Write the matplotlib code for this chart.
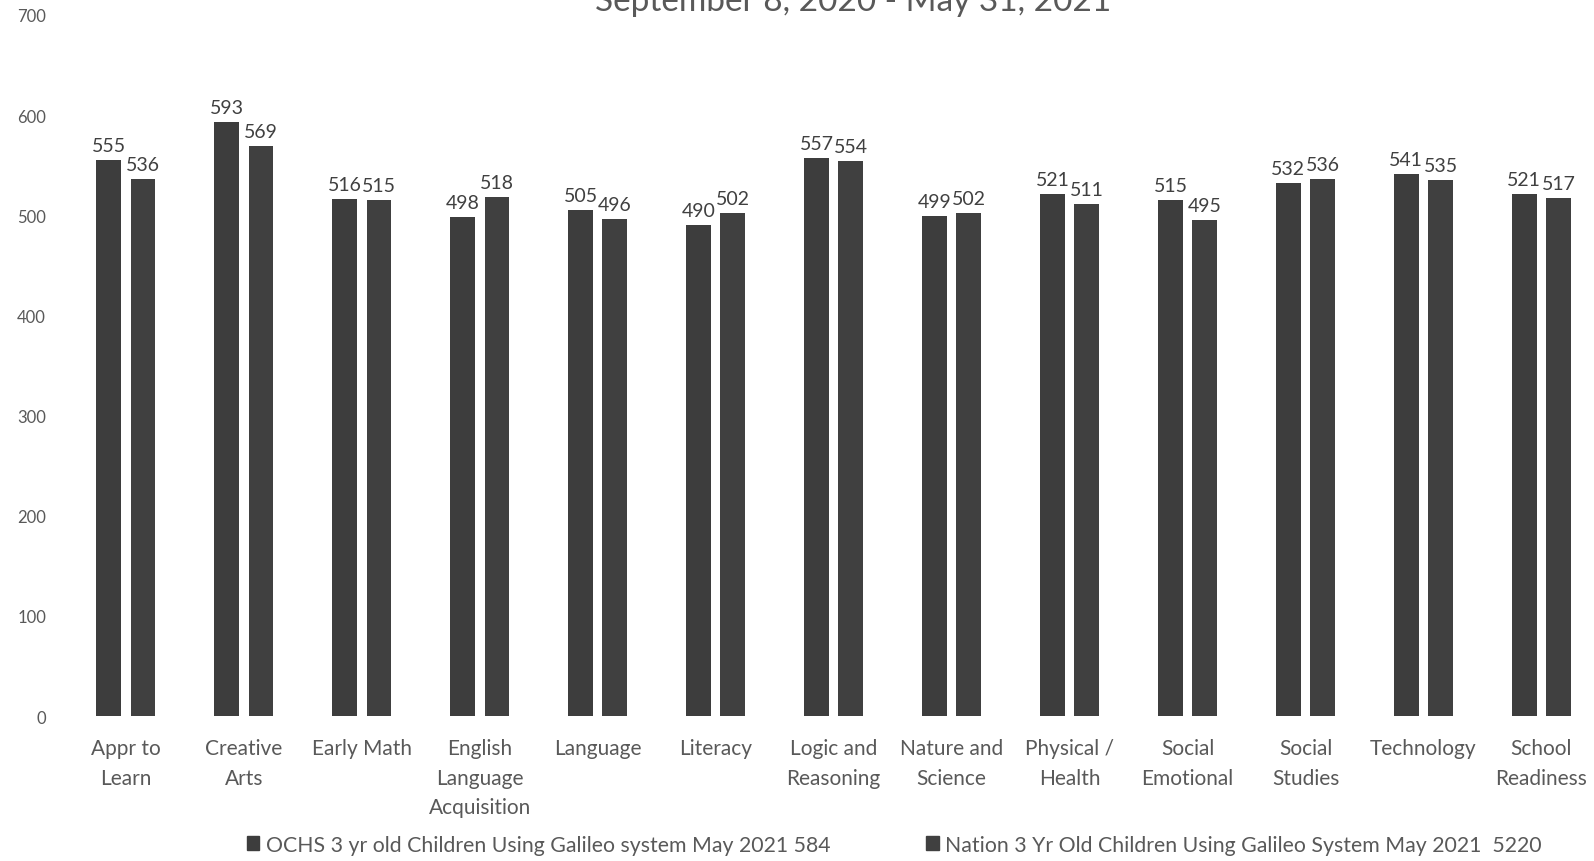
import matplotlib.pyplot as plt
import numpy as np
from matplotlib.patches import Patch

# Galileo scores by domain, 3 yr olds
categories = ["Appr to\nLearn", "Creative\nArts", "Early Math", "English\nLanguage\nAcquisition",
              "Language", "Literacy", "Logic and\nReasoning", "Nature and\nScience",
              "Physical /\nHealth", "Social\nEmotional", "Social\nStudies", "Technology",
              "School\nReadiness"]
ochs = [555, 593, 516, 498, 505, 490, 557, 499, 521, 515, 532, 541, 521]
nation = [536, 569, 515, 518, 496, 502, 554, 502, 511, 495, 536, 535, 517]
series_names = ["OCHS 3 yr old Children Using Galileo system May 2021 584",
                "Nation 3 Yr Old Children Using Galileo System May 2021  5220"]
yticks = [0, 100, 200, 300, 400, 500, 600, 700]

plt.rcParams['font.family'] = ['Lato', 'DejaVu Sans']
bar_color = "#404040"
text_color = "#595959"

fig = plt.figure(figsize=(15.94, 8.62), dpi=100)
ax = fig.add_axes([0.042, 0.168, 0.962, 0.8136])

x = np.arange(len(categories))
w = 0.21
off = 0.145
b1 = ax.bar(x - off, ochs, w, color="#3d3d3d")
b2 = ax.bar(x + off, nation, w, color=bar_color)

for bars in (b1, b2):
    for r in bars:
        ax.text(r.get_x() + r.get_width() / 2, r.get_height() + 6, str(int(r.get_height())),
                ha='center', va='bottom', fontsize=14, color="#404040")

ax.set_ylim(0, 700)
ax.set_xlim(-0.5, len(categories) - 0.5)
ax.set_yticks(yticks)
ax.set_yticklabels([str(v) for v in yticks], fontsize=12, color=text_color)
ax.set_xticks(x)
ax.set_xticklabels(categories, fontsize=15, color=text_color, linespacing=1.58, va='top')
ax.tick_params(axis='both', length=0)
ax.tick_params(axis='y', pad=15)
ax.tick_params(axis='x', pad=16)
for s in ax.spines.values():
    s.set_visible(False)

# title is cut off at the top of the original image
fig.text(0.535, 0.987, "September 8, 2020 - May 31, 2021", ha='center', va='baseline',
         fontsize=24, color=text_color)

handles = [Patch(color="#3d3d3d"), Patch(color=bar_color)]
fig.legend(handles, series_names, loc='center', bbox_to_anchor=(0.561, 0.019), ncol=2,
           frameon=False, fontsize=15.3, handlelength=0.6, handleheight=0.6,
           handletextpad=0.3, columnspacing=4.5, labelcolor=text_color)

fig.savefig("out.png", dpi=100)
